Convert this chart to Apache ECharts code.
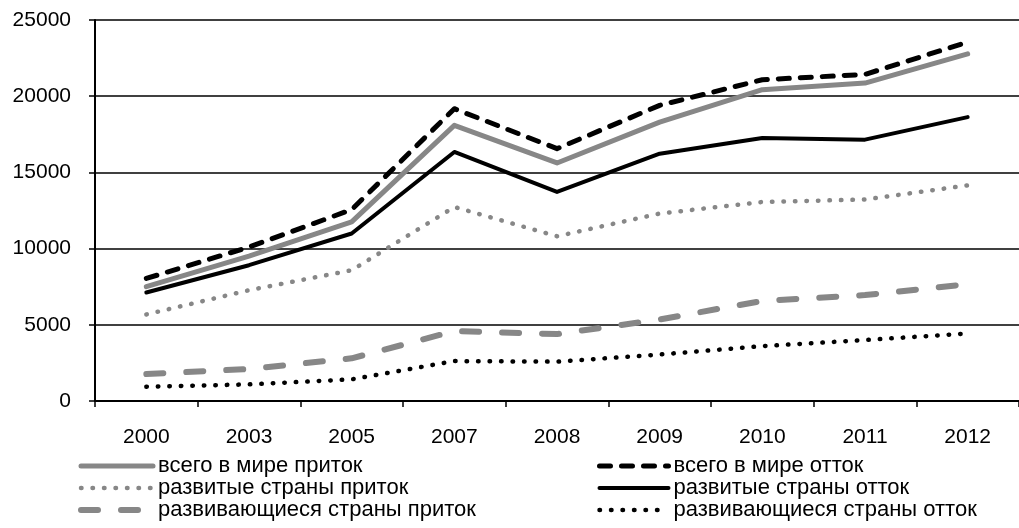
<!DOCTYPE html>
<html>
<head>
<meta charset="utf-8">
<script src="https://cdn.jsdelivr.net/npm/echarts@6/dist/echarts.min.js"></script>
<style>html,body{margin:0;padding:0;background:#fff}#c{width:1019px;height:528px}</style>
</head>
<body>
<div id="c"></div>
<script>
const years = ['2000','2003','2005','2007','2008','2009','2010','2011','2012'];
const worldIn  = [7500, 9500, 11750, 18090, 15620, 18300, 20430, 20860, 22780];
const worldOut = [8040, 10100, 12560, 19180, 16560, 19400, 21080, 21430, 23550];
const devIn    = [5680, 7270, 8580, 12730, 10810, 12300, 13060, 13220, 14150];
const devOut   = [7120, 8910, 10990, 16340, 13720, 16230, 17260, 17150, 18630];
const emgIn    = [1770, 2100, 2800, 4590, 4390, 5350, 6570, 6950, 7670];
const emgOut   = [940, 1090, 1420, 2620, 2580, 3050, 3600, 4000, 4430];
const yTicks = [0, 5000, 10000, 15000, 20000, 25000];

const names = ['всего в мире приток','всего в мире отток','развитые страны приток','развитые страны отток','развивающиеся страны приток','развивающиеся страны отток'];
const GRAY = '#878787';
const FONT = 'Liberation Sans, Arial, sans-serif';

function mk(name, data, color, width, type, z) {
  return {
    name, type: 'line', data, symbol: 'none', z: z,
    lineStyle: { color, width, type, cap: 'round', join: 'round' },
    itemStyle: { color }
  };
}

const legendText = { fontSize: 22, fontFamily: FONT, color: '#000', lineHeight: 22 };

const chart = echarts.init(document.getElementById('c'));
chart.setOption({
  animation: false,
  backgroundColor: '#fff',
  textStyle: { fontFamily: FONT, color: '#000' },
  grid: { left: 95, right: -3, top: 20, bottom: 127, containLabel: false },
  xAxis: {
    type: 'category', data: years, boundaryGap: true,
    axisLine: { lineStyle: { color: '#000', width: 2 } },
    axisTick: { show: true, length: 6, alignWithLabel: false, lineStyle: { color: '#000', width: 1.5 } },
    axisLabel: { color: '#000', fontSize: 21, fontFamily: FONT, margin: 26 }
  },
  yAxis: {
    type: 'value', min: yTicks[0], max: yTicks[yTicks.length - 1], interval: 5000,
    axisLine: { show: true, lineStyle: { color: '#000', width: 2 } },
    axisTick: { show: true, length: 6, lineStyle: { color: '#000', width: 1.5 } },
    axisLabel: { color: '#000', fontSize: 21, fontFamily: FONT, margin: 24, formatter: v => String(v) },
    splitLine: { show: true, lineStyle: { color: '#000', width: 1.5 } }
  },
  legend: [
    {
      orient: 'vertical', left: 78, top: 455, padding: 0, itemGap: 0, itemWidth: 72, itemHeight: 14,
      data: [names[0], names[2], names[4]],
      textStyle: legendText,
      lineStyle: { width: 'inherit' },
      itemStyle: { opacity: 0 }
    },
    {
      orient: 'vertical', left: 597, top: 455, padding: 0, itemGap: 0, itemWidth: 69, itemHeight: 14,
      data: [names[1], names[3], names[5]],
      textStyle: legendText,
      lineStyle: { width: 'inherit' },
      itemStyle: { opacity: 0 }
    }
  ],
  series: [
    mk(names[0], worldIn, GRAY, 5, 'solid', 3),
    mk(names[1], worldOut, '#000', 5, [11, 11], 4),
    mk(names[2], devIn, GRAY, 4.5, [0.5, 11], 2),
    mk(names[3], devOut, '#000', 4, 'solid', 3),
    mk(names[4], emgIn, GRAY, 6, [17, 23], 2),
    mk(names[5], emgOut, '#000', 4.5, [0.5, 11], 2)
  ]
});
</script>
</body>
</html>
